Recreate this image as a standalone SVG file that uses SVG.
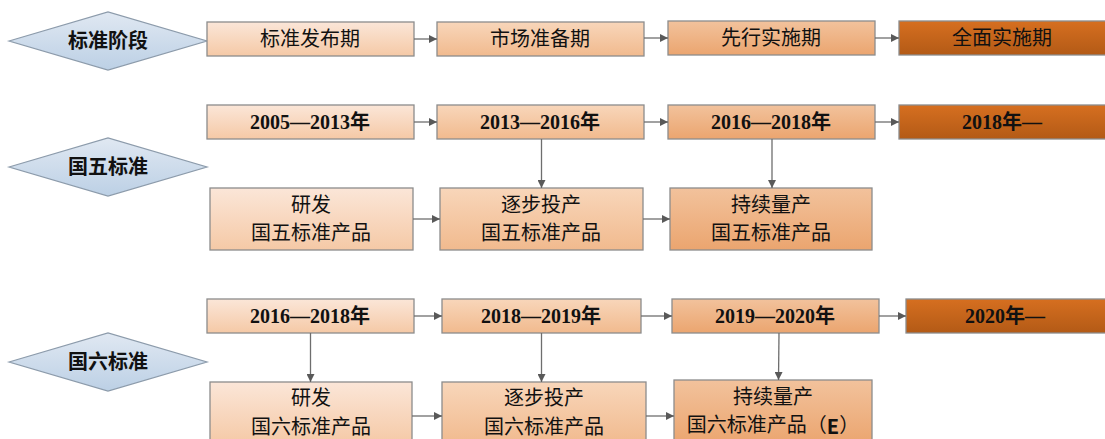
<svg xmlns="http://www.w3.org/2000/svg" width="1105" height="439" viewBox="0 0 1105 439">
<defs>
<linearGradient id="g1" x1="0" y1="0" x2="0" y2="1"><stop offset="0" stop-color="#FBE6D8"/><stop offset="1" stop-color="#F5C9A6"/></linearGradient>
<linearGradient id="g2" x1="0" y1="0" x2="0" y2="1"><stop offset="0" stop-color="#F8D6BA"/><stop offset="1" stop-color="#F1BA8E"/></linearGradient>
<linearGradient id="g3" x1="0" y1="0" x2="0" y2="1"><stop offset="0" stop-color="#F2C29C"/><stop offset="1" stop-color="#EBA56F"/></linearGradient>
<linearGradient id="g4" x1="0" y1="0" x2="0" y2="1"><stop offset="0" stop-color="#D66F20"/><stop offset="1" stop-color="#B35A16"/></linearGradient>
<linearGradient id="gd" x1="0" y1="0" x2="0" y2="1"><stop offset="0" stop-color="#E0E8F2"/><stop offset="1" stop-color="#BCD0E5"/></linearGradient>
<marker id="ah" viewBox="0 0 10 10" refX="10" refY="5" markerWidth="8" markerHeight="8" markerUnits="userSpaceOnUse" orient="auto"><path d="M0,0 L10,5 L0,10 z" fill="#595959"/></marker>
</defs>
<style>
.box{stroke:#8C8C8C;stroke-width:1.3}
.dia{fill:url(#gd);stroke:#8C9BAB;stroke-width:1.2}
.t{font-family:"Liberation Serif","Noto Sans CJK SC",serif;font-size:20px;fill:#111;text-anchor:middle;dominant-baseline:central}
.b{font-weight:bold}
.s{font-family:"Noto Sans CJK SC",sans-serif;font-weight:bold}
.c{stroke:#6E6E6E;stroke-width:1.3;fill:none;marker-end:url(#ah)}
</style>
<rect width="1105" height="439" fill="#fff"/>

<g id="d1"><polygon class="dia" points="9,41 108,12 207,41 108,70"/><text class="t b" x="108" y="41" font-size="21">标准阶段</text></g>
<g id="d2"><polygon class="dia" points="9,167 108,138 207,167 108,196"/><text class="t b" x="108" y="167" font-size="21">国五标准</text></g>
<g id="d3"><polygon class="dia" points="9,362 108,333 207,362 108,391"/><text class="t b" x="108" y="362" font-size="21">国六标准</text></g>

<g id="s1"><rect class="box" x="207" y="22" width="207" height="34" fill="url(#g1)"/><text class="t" x="310" y="39">标准发布期</text></g>
<g id="s2"><rect class="box" x="437" y="22" width="207" height="34" fill="url(#g2)"/><text class="t" x="540" y="39">市场准备期</text></g>
<g id="s3"><rect class="box" x="668" y="21" width="207" height="34" fill="url(#g3)"/><text class="t" x="771" y="38">先行实施期</text></g>
<g id="s4"><rect class="box" x="899" y="21" width="210" height="34" fill="url(#g4)"/><text class="t" x="1002" y="38">全面实施期</text></g>

<g id="y1"><rect class="box" x="207" y="105" width="207" height="34" fill="url(#g1)"/><text class="t b" x="310" y="122">2005—2013年</text></g>
<g id="y2"><rect class="box" x="437" y="105" width="207" height="34" fill="url(#g2)"/><text class="t b" x="540" y="122">2013—2016年</text></g>
<g id="y3"><rect class="box" x="668" y="105" width="207" height="34" fill="url(#g3)"/><text class="t b" x="771" y="122">2016—2018年</text></g>
<g id="y4"><rect class="box" x="899" y="105" width="210" height="34" fill="url(#g4)"/><text class="t b" x="1002" y="122">2018年—</text></g>

<g id="p1"><rect class="box" x="210" y="188" width="203" height="62" fill="url(#g1)"/><text class="t" x="311" y="205">研发</text><text class="t" x="311" y="233">国五标准产品</text></g>
<g id="p2"><rect class="box" x="440" y="188" width="203" height="62" fill="url(#g2)"/><text class="t" x="541" y="205">逐步投产</text><text class="t" x="541" y="233">国五标准产品</text></g>
<g id="p3"><rect class="box" x="670" y="188" width="202" height="62" fill="url(#g3)"/><text class="t" x="771" y="205">持续量产</text><text class="t" x="771" y="233">国五标准产品</text></g>

<g id="z1"><rect class="box" x="207" y="299" width="207" height="34" fill="url(#g1)"/><text class="t b" x="310" y="316">2016—2018年</text></g>
<g id="z2"><rect class="box" x="442" y="299" width="199" height="34" fill="url(#g2)"/><text class="t b" x="541" y="316">2018—2019年</text></g>
<g id="z3"><rect class="box" x="672" y="299" width="207" height="34" fill="url(#g3)"/><text class="t b" x="775" y="316">2019—2020年</text></g>
<g id="z4"><rect class="box" x="906" y="299" width="203" height="34" fill="url(#g4)"/><text class="t b" x="1005" y="316">2020年—</text></g>

<g id="q1"><rect class="box" x="210" y="382" width="202" height="62" fill="url(#g1)"/><text class="t" x="311" y="398">研发</text><text class="t" x="311" y="427">国六标准产品</text></g>
<g id="q2"><rect class="box" x="442" y="382" width="204" height="62" fill="url(#g2)"/><text class="t" x="544" y="398">逐步投产</text><text class="t" x="544" y="427">国六标准产品</text></g>
<g id="q3"><rect class="box" x="674" y="380" width="198" height="64" fill="url(#g3)"/><text class="t" x="773" y="397">持续量产</text><text class="t" x="773" y="425">国六标准产品（<tspan class="s">E</tspan>）</text></g>

<g id="connectors">
<line class="c" x1="414" y1="39" x2="437" y2="39"/>
<line class="c" x1="644" y1="38" x2="668" y2="38"/>
<line class="c" x1="875" y1="38" x2="899" y2="38"/>
<line class="c" x1="414" y1="122" x2="437" y2="122"/>
<line class="c" x1="644" y1="122" x2="668" y2="122"/>
<line class="c" x1="875" y1="122" x2="899" y2="122"/>
<line class="c" x1="541.5" y1="139" x2="541.5" y2="188"/>
<line class="c" x1="772" y1="139" x2="772" y2="188"/>
<line class="c" x1="413" y1="219" x2="440" y2="219"/>
<line class="c" x1="643" y1="219" x2="670" y2="219"/>
<line class="c" x1="414" y1="316" x2="442" y2="316"/>
<line class="c" x1="641" y1="316" x2="672" y2="316"/>
<line class="c" x1="879" y1="316" x2="906" y2="316"/>
<line class="c" x1="310.5" y1="333" x2="310.5" y2="382"/>
<line class="c" x1="541.5" y1="333" x2="541.5" y2="382"/>
<line class="c" x1="779" y1="333" x2="778.5" y2="380"/>
<line class="c" x1="412" y1="416" x2="442" y2="416"/>
<line class="c" x1="646" y1="416" x2="674" y2="416"/>
</g>
</svg>
